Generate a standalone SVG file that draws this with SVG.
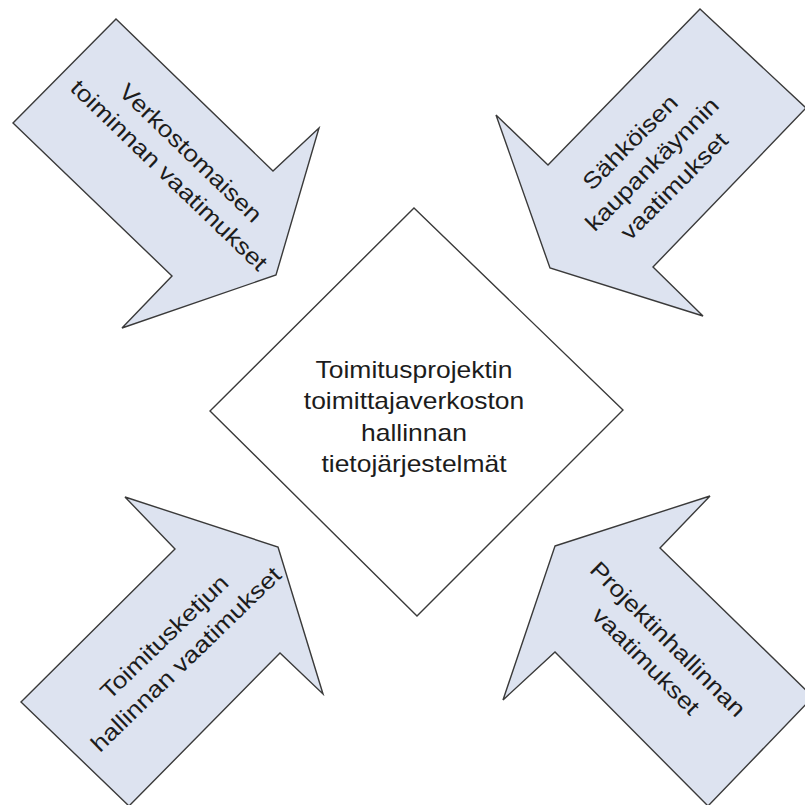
<svg xmlns="http://www.w3.org/2000/svg" width="805" height="805" viewBox="0 0 805 805">
  <style>
    .arrow { fill: #dde3f0; stroke: #3a3a3a; stroke-width: 1.4; stroke-linejoin: miter; }
    .core { fill: #ffffff; stroke: #3a3a3a; stroke-width: 1.4; }
    .label { font-family: "Liberation Sans", Arial, sans-serif; font-size: 23px; fill: #1c1c1c; text-anchor: middle; }
  </style>
  <rect width="805" height="805" fill="#ffffff"/>

  <!-- Central system: diamond -->
  <g id="node-core">
    <polygon class="core" points="414,208 623,410 417,616 210,411"/>
    <g transform="translate(414,0) scale(1.15,1)">
      <text class="label" x="0" y="378">Toimitusprojektin</text>
      <text class="label" x="0" y="409">toimittajaverkoston</text>
      <text class="label" x="0" y="441">hallinnan</text>
      <text class="label" x="0" y="472">tietojärjestelmät</text>
    </g>
  </g>

  <!-- Requirement arrows pointing toward the centre -->
  <g id="node-verkosto">
    <polygon class="arrow" points="116,19 273,171 319,128 276,275 122,328 172,276 13,123"/>
    <g transform="translate(180,164) rotate(44) scale(1.15,1)">
      <text class="label" x="0" y="-7.5">Verkostomaisen</text>
      <text class="label" x="0" y="23.5">toiminnan vaatimukset</text>
    </g>
  </g>

  <g id="node-sahkoinen">
    <polygon class="arrow" points="700,9 806,108 653,267 703,316 550,268 496,115 548,165"/>
    <g transform="translate(652,164) rotate(-45) scale(1.15,1)">
      <text class="label" x="0" y="-23">Sähköisen</text>
      <text class="label" x="0" y="8">kaupankäynnin</text>
      <text class="label" x="0" y="39">vaatimukset</text>
    </g>
  </g>

  <g id="node-toimitusketju">
    <polygon class="arrow" points="278,547 323,694 280,653 129,806 21,702 175,549 125,497"/>
    <g transform="translate(175,648) rotate(-44) scale(1.15,1)">
      <text class="label" x="0" y="-7.5">Toimitusketjun</text>
      <text class="label" x="0" y="23.5">hallinnan vaatimukset</text>
    </g>
  </g>

  <g id="node-projektinhallinta">
    <polygon class="arrow" points="555,546 710,496 660,548 813,697 708,806 555,652 503,700"/>
    <g transform="translate(657,650) rotate(45) scale(1.15,1)">
      <text class="label" x="0" y="-7.5">Projektinhallinnan</text>
      <text class="label" x="0" y="23.5">vaatimukset</text>
    </g>
  </g>
</svg>
